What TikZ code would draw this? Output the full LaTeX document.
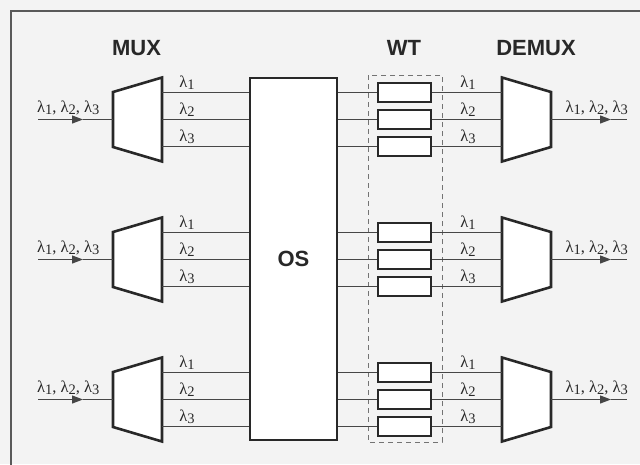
\documentclass[tikz,border=0pt]{standalone}
\usepackage{fontspec}
\setmainfont{Liberation Serif}
\newfontfamily\hdfont{Liberation Sans}
\usetikzlibrary{arrows.meta}
\definecolor{bgc}{RGB}{243,243,243}
\definecolor{ink}{RGB}{40,40,40}
\definecolor{wirec}{RGB}{70,70,70}
\newcommand{\lm}[1]{λ\raisebox{-2pt}{\fontsize{14.5}{14.5}\selectfont #1}}
\begin{document}
\begin{tikzpicture}[x=1pt,y=-1pt,
  wire/.style={draw=wirec, line width=1.2pt},
  trap/.style={draw=ink, fill=white, line width=2.6pt, line join=miter},
  osbox/.style={draw=ink, fill=white, line width=2pt, minimum width=87pt, minimum height=362pt, inner sep=0pt},
  wtbox/.style={draw=ink, fill=white, line width=1.8pt, minimum width=53pt, minimum height=19pt, inner sep=0pt},
  wtgroup/.style={draw=black!55, line width=0.8pt, dash pattern=on 5pt off 4pt},
  head/.style={font=\hdfont\bfseries\fontsize{22}{22}\selectfont, text=ink, inner sep=0pt},
  lab/.style={font=\fontsize{16.5}{16.5}\selectfont, text=ink, inner sep=0pt},
  arr/.style={wire, -{Triangle[length=11pt,width=8pt]}}
]
\useasboundingbox (0,0) rectangle (640,464);
\fill[bgc] (0,0) rectangle (640,464);
\draw[black!65, line width=1.3pt] (11,11) rectangle (660,480);

% headings
\node[head] (hmux) at (136.5,48) {MUX};
\node[head] (hwt) at (404,48) {WT};
\node[head] (hdemux) at (536,48) {DEMUX};

% WT group and OS
\draw[wtgroup] (368,75) rectangle (442,442);
\node[osbox, head] (os) at (293.5,259) {OS};

\foreach \r/\c in {1/119.5,2/259.5,3/399.5} {
  % MUX
  \draw[trap] (113,\c-27.5) -- (162,\c-42) -- (162,\c+42) -- (113,\c+27.5) -- cycle;
  % DEMUX
  \draw[trap] (502,\c-42) -- (551,\c-27.5) -- (551,\c+27.5) -- (502,\c+42) -- cycle;
  % input
  \coordinate (in\r) at (38,\c);
  \coordinate (inm\r) at (83,\c);
  \coordinate (mux\r) at (113,\c);
  \draw[arr] (in\r) -- (inm\r);
  \draw[wire] (inm\r) -- (mux\r);
  \node[lab, anchor=west] (inl\r) at (37,\c-12) {\lm{1}, \lm{2}, \lm{3}};
  % output
  \coordinate (dem\r) at (551,\c);
  \coordinate (outm\r) at (611,\c);
  \coordinate (out\r) at (627,\c);
  \draw[arr] (dem\r) -- (outm\r);
  \draw[wire] (outm\r) -- (out\r);
  \node[lab, anchor=east] (outl\r) at (628,\c-12) {\lm{1}, \lm{2}, \lm{3}};
  % channels
  \foreach \k/\o in {1/-27,2/0,3/27} {
    \coordinate (mo\r\k) at (162,\c+\o);
    \coordinate (di\r\k) at (502,\c+\o);
    \node[wtbox] (wt\r\k) at (404.5,\c+\o) {};
    \draw[wire] (mo\r\k) -- (mo\r\k -| os.west);
    \draw[wire] (mo\r\k -| os.east) -- (wt\r\k.west);
    \draw[wire] (wt\r\k.east) -- (di\r\k);
    \node[lab] (ll\r\k) at (187,\c+\o-10) {\lm{\k}};
    \node[lab] (rl\r\k) at (468,\c+\o-10) {\lm{\k}};
  }
}
\end{tikzpicture}
\end{document}
